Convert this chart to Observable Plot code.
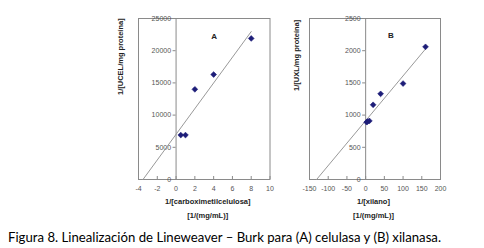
<!DOCTYPE html>
<html>
<head>
<meta charset="utf-8">
<script src="https://cdn.jsdelivr.net/npm/d3@7"></script>
<script src="https://cdn.jsdelivr.net/npm/@observablehq/plot@0.6"></script>
<style>
  html, body { margin: 0; padding: 0; background: #fff; }
  #wrap { position: relative; width: 484px; height: 248px; overflow: hidden; background: #fff; }
  #caption { position: absolute; left: 8px; top: 228px; font-family: Lato, "Open Sans", sans-serif; font-size: 14px; color: #000; white-space: nowrap; transform-origin: 0 0; }
</style>
</head>
<body>
<div id="wrap"><div id="caption">Figura 8. Linealización de Lineweaver – Burk para (A) celulasa y (B) xilanasa.</div></div>
<script>
// Panel A: celulasa
const xA = [0.5, 1, 2, 4, 8];
const yA = [6900, 6900, 14000, 16300, 21900];
const xTicksA = [-4, -2, 0, 2, 4, 6, 8, 10];
const yTicksA = [0, 5000, 10000, 15000, 20000, 25000];
// Panel B: xilanasa
const xB = [2.5, 5, 10, 20, 40, 100, 160];
const yB = [890, 900, 910, 1160, 1330, 1490, 2060];
const xTicksB = [-150, -100, -50, 0, 50, 100, 150, 200];
const yTicksB = [0, 500, 1000, 1500, 2000, 2500];

const labelsA = {tag: "A", yTitle: "1/[UCEL/mg proteína]", xTitle1: "1/[carboximetilcelulosa]", xTitle2: "[1/(mg/mL)]"};
const labelsB = {tag: "B", yTitle: "1/[UXL/mg proteína]", xTitle1: "1/[xilano]", xTitle2: "[1/(mg/mL)]"};

function fit(xs, ys) {
  const n = xs.length, mx = d3.mean(xs), my = d3.mean(ys);
  let sxx = 0, sxy = 0;
  for (let i = 0; i < n; i++) { sxx += (xs[i]-mx)**2; sxy += (xs[i]-mx)*(ys[i]-my); }
  const m = sxy/sxx, b = my - m*mx;
  return {m, b};
}

function panel(o) {
  const {xs, ys, xTicks, yTicks, lab, left, width, height, ml, mr, mt, mb, tagDx, tagDy, ytDx, ytDy, xtDx} = o;
  const xDom = d3.extent(xTicks), yDom = d3.extent(yTicks);
  const fw = width - ml - mr, fh = height - mt - mb;
  const xUnit = 3 / (fw / (xDom[1]-xDom[0]));
  const yUnit = 3 / (fh / (yDom[1]-yDom[0]));
  const {m, b} = fit(xs, ys);
  const x0 = -b/m, x1 = d3.max(xs);
  const trend = [{x: x0, y: 0}, {x: x1, y: m*x1 + b}];
  const pts = xs.map((x, i) => ({x, y: ys[i]}));
  const gray = "#8a8a8a";
  const svg = Plot.plot({
    width, height, marginLeft: ml, marginRight: mr, marginTop: mt, marginBottom: mb,
    x: {domain: xDom, axis: null},
    y: {domain: yDom, axis: null},
    style: {position: "absolute", left: left + "px", top: "0px", overflow: "visible", background: "transparent", fontFamily: "'Liberation Sans', Arial, sans-serif"},
    marks: [
      Plot.frame({stroke: gray}),
      Plot.ruleX([0], {stroke: gray}),
      Plot.ruleY(yTicks, {y: d => d, x1: 0, x2: -xUnit, stroke: gray}),
      Plot.ruleX(xTicks, {x: d => d, y1: yDom[0], y2: yDom[0] + yUnit, stroke: gray}),
      Plot.text(yTicks, {x: () => 0, y: d => d, text: d => String(d), dx: -5, textAnchor: "end", fontSize: 7, fill: "#555"}),
      Plot.text(xTicks, {x: d => d, frameAnchor: "bottom", dy: 11, text: d => String(d), fontSize: 7, fill: "#555"}),
      Plot.line(trend, {x: "x", y: "y", stroke: "#999", strokeWidth: 1}),
      Plot.dot(pts, {x: "x", y: "y", symbol: "diamond2", r: 2.6, fill: "#1d1d78", stroke: "#1d1d78", strokeWidth: 0.6}),
      Plot.text([lab.tag], {frameAnchor: "top", dx: tagDx, dy: tagDy, fontSize: 8, fontWeight: "bold", fill: "#222"}),
      Plot.text([lab.yTitle], {frameAnchor: "left", dx: ytDx, dy: ytDy, rotate: -90, fontSize: 7.5, fontWeight: "bold", fill: "#222"}),
      Plot.text([lab.xTitle1], {frameAnchor: "bottom", dx: xtDx, dy: 24, fontSize: 7.5, fontWeight: "bold", fill: "#222"}),
      Plot.text([lab.xTitle2], {frameAnchor: "bottom", dx: xtDx, dy: 38, fontSize: 7.5, fontWeight: "bold", fill: "#222"})
    ]
  });
  return svg;
}

const wrap = document.getElementById("wrap");
wrap.appendChild(panel({xs: xA, ys: yA, xTicks: xTicksA, yTicks: yTicksA, lab: labelsA,
  left: 90, width: 190, height: 226, ml: 48, mr: 10.5, mt: 18, mb: 47,
  tagDx: 10, tagDy: 15, ytDx: -17.5, ytDy: -4, xtDx: 3.5}));
wrap.appendChild(panel({xs: xB, ys: yB, xTicks: xTicksB, yTicks: yTicksB, lab: labelsB,
  left: 265, width: 185, height: 226, ml: 44, mr: 10, mt: 18, mb: 47,
  tagDx: 16, tagDy: 14, ytDx: -13.3, ytDy: -8, xtDx: -1.5}));

const cap = document.getElementById("caption");
const w = cap.getBoundingClientRect().width;
cap.style.transform = `scaleX(${433 / w})`;
</script>
</body>
</html>
